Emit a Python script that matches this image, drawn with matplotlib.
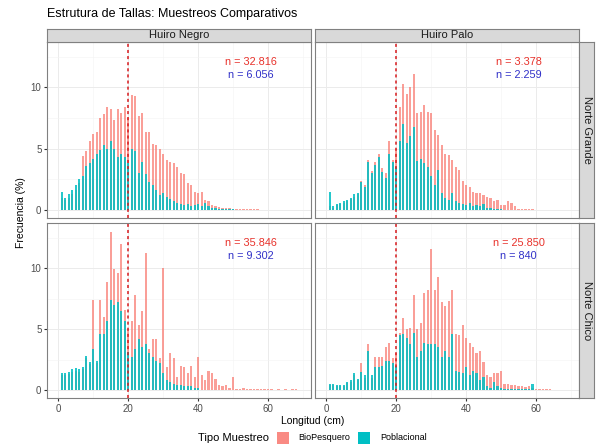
import matplotlib.pyplot as plt
from matplotlib.patches import Rectangle

plt.rcParams['font.family'] = ['Liberation Sans', 'DejaVu Sans']

# tallas 1..68 cm
longitud = list(range(1, 69))

# Huiro Negro - Norte Grande
hn_ng_bio = [1.0, 0.8, 1.0, 1.3, 1.6, 2.2, 4.4, 4.8, 5.6, 6.2,
             6.4, 7.5, 7.8, 8.4, 8.2, 7.3, 8.2, 7.9, 8.4, 7.6,
             9.4, 9.3, 7.7, 7.9, 6.4, 6.4, 5.4, 5.3, 5.0, 4.6,
             4.1, 3.9, 3.8, 3.5, 3.0, 2.9, 2.2, 2.0, 1.5, 1.4,
             1.5, 0.8, 0.7, 0.4, 0.3, 0.25, 0.2, 0.15, 0.15, 0.1,
             0.1, 0.1, 0.08, 0.1, 0.05, 0.08, 0.05, 0.03, 0, 0,
             0, 0, 0, 0, 0, 0, 0, 0]
hn_ng_pob = [1.5, 1.0, 1.3, 1.6, 2.0, 2.5, 2.8, 3.6, 3.8, 4.2,
             4.6, 4.9, 5.3, 5.0, 5.6, 5.0, 4.3, 4.6, 4.3, 3.8,
             5.0, 4.8, 3.0, 3.9, 2.9, 2.3, 2.0, 1.6, 1.2, 1.4,
             1.1, 0.9, 0.7, 0.6, 0.5, 0.4, 0.5, 0.3, 0.4, 0.5,
             0.3, 0.6, 0.3, 0.2, 0.15, 0.1, 0.08, 0.05, 0.05, 0.05,
             0.04, 0.03, 0.02, 0, 0, 0, 0, 0, 0, 0,
             0, 0, 0, 0, 0, 0, 0, 0]

# Huiro Palo - Norte Grande
hp_ng_bio = [0.3, 0.2, 0.4, 0.5, 0.6, 0.7, 0.9, 1.1, 1.3, 2.4,
             2.0, 4.1, 3.2, 3.9, 4.6, 3.4, 3.0, 5.6, 4.1, 5.0,
             8.4, 10.3, 9.5, 10.0, 11.1, 7.9, 8.0, 8.6, 8.0, 7.9,
             6.5, 6.1, 5.3, 4.6, 4.5, 4.1, 3.5, 3.3, 2.4, 2.0,
             1.9, 1.5, 1.4, 1.4, 1.2, 1.1, 1.0, 0.7, 0.8, 0.4,
             0.4, 0.7, 0.6, 0.3, 0.1, 0.1, 0.1, 0.08, 0.05, 0.03,
             0, 0, 0, 0, 0, 0, 0, 0]
hp_ng_pob = [1.5, 0.3, 0.5, 0.6, 0.7, 0.8, 1.0, 1.3, 1.4, 2.3,
             1.9, 3.9, 3.0, 3.7, 4.3, 3.1, 2.6, 4.6, 3.9, 3.5,
             5.6, 7.0, 5.5, 6.0, 6.8, 4.0, 4.2, 3.8, 3.5, 2.8,
             2.0, 3.3, 1.4, 1.0, 0.8, 1.4, 0.7, 0.6, 0.5, 0.4,
             0.6, 0.3, 0.4, 0.3, 0.5, 0.2, 0.2, 0.1, 0.1, 0.05,
             0, 0, 0, 0, 0, 0, 0, 0, 0, 0,
             0, 0, 0, 0, 0, 0, 0, 0]

# Huiro Negro - Norte Chico
hn_nc_bio = [1.2, 1.2, 1.3, 1.5, 1.6, 1.5, 1.7, 2.6, 2.1, 7.4,
             2.2, 7.4, 6.0, 8.9, 13.0, 9.9, 9.6, 12.0, 6.6, 5.0,
             5.7, 7.8, 5.3, 6.5, 11.2, 3.4, 4.2, 4.2, 2.6, 10.0,
             1.9, 3.0, 2.6, 1.1, 2.0, 1.9, 1.4, 2.0, 1.1, 2.7,
             1.2, 0.8, 1.6, 1.4, 0.9, 0.4, 0.3, 0.4, 0.2, 1.1,
             0.1, 0.1, 0.15, 0.1, 0.1, 0.08, 0.1, 0.05, 0.05, 0.1,
             0.05, 0.03, 0.05, 0.03, 0.1, 0.03, 0.05, 0.1]
hn_nc_pob = [1.4, 1.4, 1.5, 1.7, 1.8, 1.7, 1.9, 2.8, 2.3, 3.4,
             2.4, 4.6, 4.6, 5.7, 7.4, 7.0, 7.2, 6.5, 5.7, 3.1,
             2.7, 3.4, 4.2, 3.5, 3.8, 3.0, 2.7, 2.4, 2.2, 1.4,
             0.8, 0.7, 0.5, 0.4, 0.4, 0.3, 0.3, 0.3, 0.2, 0.2,
             0, 0, 0, 0, 0, 0, 0, 0, 0, 0,
             0, 0, 0, 0, 0, 0, 0, 0, 0, 0,
             0, 0, 0, 0, 0, 0, 0, 0]

# Huiro Palo - Norte Chico
hp_nc_bio = [0.4, 0.4, 0.3, 0.3, 0.3, 0.6, 0.7, 1.2, 0.8, 2.2,
             1.0, 3.8, 1.0, 2.7, 2.7, 2.7, 3.5, 3.9, 2.6, 3.0,
             4.7, 5.9, 5.0, 5.1, 7.8, 5.0, 5.5, 8.0, 8.2, 11.6,
             8.2, 9.3, 7.2, 6.9, 7.3, 8.2, 4.6, 4.5, 5.3, 4.3,
             3.9, 3.5, 3.0, 3.2, 2.3, 1.2, 1.1, 1.4, 1.4, 1.6,
             0.5, 0.5, 0.4, 0.4, 0.35, 0.3, 0.25, 0.3, 0.2, 0.1,
             0.08, 0.08, 0.05, 0.05, 0.03, 0, 0, 0]
hp_nc_pob = [0.5, 0.5, 0.4, 0.4, 0.4, 0.7, 0.8, 1.4, 0.9, 1.5,
             1.2, 3.2, 1.2, 1.9, 1.9, 2.0, 2.4, 2.4, 2.2, 2.0,
             4.5, 4.6, 4.3, 3.8, 4.7, 2.7, 3.2, 3.9, 3.8, 3.8,
             3.8, 3.5, 2.7, 3.2, 2.7, 4.6, 1.6, 1.5, 1.4, 1.9,
             1.2, 1.6, 1.4, 0.8, 1.1, 0.3, 0.2, 0.7, 0.3, 0.2,
             0.1, 0.1, 0.05, 0.05, 0.05, 0.05, 0.05, 0.05, 0.5, 0.03,
             0, 0, 0, 0, 0, 0, 0, 0]

especies = ['Huiro Negro', 'Huiro Palo']
zonas = ['Norte Grande', 'Norte Chico']
n_bio = [['n = 32.816', 'n = 3.378'], ['n = 35.846', 'n = 25.850']]
n_pob = [['n = 6.056', 'n = 2.259'], ['n = 9.302', 'n = 840']]
datos_bio = [[hn_ng_bio, hp_ng_bio], [hn_nc_bio, hp_nc_bio]]
datos_pob = [[hn_ng_pob, hp_ng_pob], [hn_nc_pob, hp_nc_pob]]
talla_ref = 20

col_bio = '#F8766D'
col_pob = '#00BFC4'
borde = '#808080'

W, H = 599, 445
fig = plt.figure(figsize=(W / 100, H / 100), dpi=100)


def caja(x0, y0, x1, y1):
    # pixeles desde arriba-izquierda -> coords de figura
    return [x0 / W, 1 - y1 / H, (x1 - x0) / W, (y1 - y0) / H]


cols = [(47, 311), (315, 579)]
filas = [(42, 218), (223, 398)]

for i, (y0, y1) in enumerate(filas):
    for j, (x0, x1) in enumerate(cols):
        ax = fig.add_axes(caja(x0, y0, x1, y1))
        ax.set_axisbelow(True)
        ax.bar(longitud, datos_bio[i][j], width=0.6, color=col_bio, alpha=0.7, linewidth=0)
        ax.bar(longitud, datos_pob[i][j], width=0.6, color=col_pob, alpha=0.85, linewidth=0)
        ax.axvline(talla_ref, color='#D7191C', linestyle=(0, (2, 2)), linewidth=1.1)
        ax.text(55, 12.1, n_bio[i][j], color='#E8312A', fontsize=7.8, ha='center', va='center')
        ax.text(55, 11.0, n_pob[i][j], color='#3030C8', fontsize=7.8, ha='center', va='center')
        ax.set_xlim(-3.2, 72.3)
        ax.set_ylim(-0.65, 13.7)
        ax.set_xticks([0, 20, 40, 60])
        ax.set_xticks([10, 30, 50, 70], minor=True)
        ax.set_yticks([0, 5, 10])
        ax.set_yticks([2.5, 7.5, 12.5], minor=True)
        ax.grid(which='major', color='#EBEBEB', linewidth=0.7)
        ax.grid(which='minor', color='#F3F3F3', linewidth=0.4)
        ax.tick_params(which='major', length=2.5, color='#333333', labelsize=7,
                       labelcolor='#4D4D4D', pad=1.5)
        ax.tick_params(which='minor', length=0)
        if j == 1:
            ax.tick_params(axis='y', which='major', labelleft=False, length=0)
        if i == 0:
            ax.tick_params(axis='x', which='major', labelbottom=False, length=0)
        for s in ax.spines.values():
            s.set_color(borde)
            s.set_linewidth(0.8)

        if i == 0:
            st = fig.add_axes(caja(x0, 29, x1, 42))
            st.set_facecolor('#D9D9D9')
            st.set_xticks([])
            st.set_yticks([])
            for s in st.spines.values():
                s.set_color(borde)
                s.set_linewidth(0.8)
            st.text(0.5, 0.5, especies[j], ha='center', va='center', fontsize=8,
                    color='#1A1A1A', transform=st.transAxes)
        if j == 1:
            st = fig.add_axes(caja(579, y0, 594, y1))
            st.set_facecolor('#D9D9D9')
            st.set_xticks([])
            st.set_yticks([])
            for s in st.spines.values():
                s.set_color(borde)
                s.set_linewidth(0.8)
            st.text(0.5, 0.5, zonas[i], ha='center', va='center', fontsize=8,
                    rotation=-90, color='#1A1A1A', transform=st.transAxes)

fig.text(47 / W, 1 - 14 / H, 'Estrutura de Tallas: Muestreos Comparativos',
         fontsize=9, ha='left', va='center', color='black')
fig.text(21 / W, 1 - 213 / H, 'Frecuencia (%)', rotation=90, fontsize=7.5,
         ha='center', va='center')
fig.text(313 / W, 1 - 421 / H, 'Longitud (cm)', fontsize=7.5, ha='center', va='center')

# leyenda
fig.text(198 / W, 1 - 438 / H, 'Tipo Muestreo', fontsize=8, ha='left', va='center')
fig.patches.append(Rectangle((277 / W, 1 - 444 / H), 12 / W, 12 / H, transform=fig.transFigure,
                             facecolor=col_bio, alpha=0.85, edgecolor='none'))
fig.text(298 / W, 1 - 438 / H, 'BioPesquero', fontsize=6.5, ha='left', va='center')
fig.patches.append(Rectangle((358 / W, 1 - 444 / H), 12 / W, 12 / H, transform=fig.transFigure,
                             facecolor=col_pob, edgecolor='none'))
fig.text(380 / W, 1 - 438 / H, 'Poblacional', fontsize=6.5, ha='left', va='center')

fig.savefig('out.png', dpi=100)
